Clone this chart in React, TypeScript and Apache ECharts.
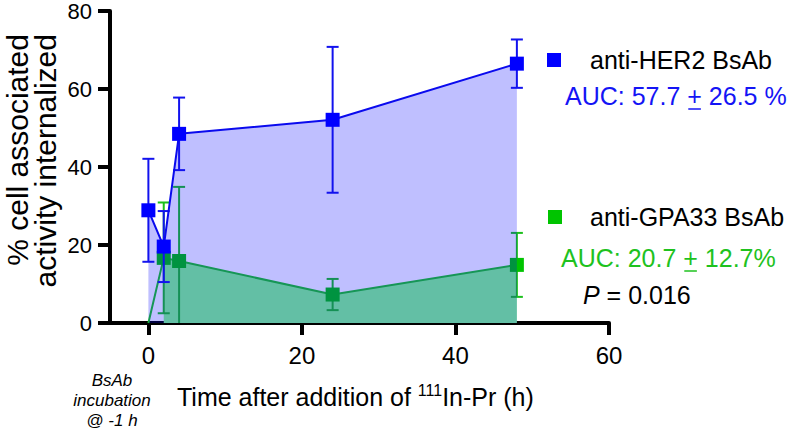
import React, { useEffect, useRef } from "react";
import * as echarts from "echarts";

// ---- data ----
const hoursHER2 = [0, 2, 4, 24, 48];
const her2Mean = [28.9, 19.6, 48.5, 52.1, 66.5];
const her2Err = [13.2, 9.1, 9.3, 18.7, 6.2];

const hoursGPA33 = [0, 2, 4, 24, 48];
const gpa33Mean = [0, 16.7, 15.9, 7.3, 14.9];
const gpa33Err = [0, 14.2, 19.0, 4.0, 8.2];

const xTickValues = [0, 20, 40, 60];

const her2Name = "anti-HER2 BsAb";
const gpa33Name = "anti-GPA33 BsAb";
const her2AucPre = "AUC: 57.7 ";
const her2AucPost = " 26.5 %";
const gpa33AucPre = "AUC: 20.7 ";
const gpa33AucPost = " 12.7%";
const pValue = "0.016";

const FONT = '"Liberation Sans", Arial, Helvetica, sans-serif';
const BLUE = "#0000ff";
const BLUE_TEXT = "#1414f5";
const GREEN = "#00c400";
const GREEN_TEXT = "#1ec21e";

function measure(text: string, size: number, style = "normal") {
  const c = document.createElement("canvas").getContext("2d");
  if (!c) return text.length * size * 0.55;
  c.font = `${style} ${size}px "Liberation Sans", Arial, sans-serif`;
  return c.measureText(text).width;
}

function errorSeries(xs: number[], ys: number[], es: number[], color: string, z: number) {
  return {
    type: "custom",
    z,
    silent: true,
    data: xs.map((x, i) => [x, ys[i], es[i]]),
    renderItem: (params: any, api: any) => {
      const x = api.value(0);
      const y = api.value(1);
      const e = api.value(2);
      if (!e) return null;
      const lowV = Math.max(0, y - e);
      const hi = api.coord([x, y + e]);
      const lo = api.coord([x, lowV]);
      const w = 6;
      const st = { stroke: color, lineWidth: 2 };
      const children: any[] = [
        { type: "line", shape: { x1: hi[0], y1: hi[1], x2: lo[0], y2: lo[1] }, style: st },
        { type: "line", shape: { x1: hi[0] - w, y1: hi[1], x2: hi[0] + w, y2: hi[1] }, style: st },
      ];
      if (y - e > 0) {
        children.push({ type: "line", shape: { x1: lo[0] - w, y1: lo[1], x2: lo[0] + w, y2: lo[1] }, style: st });
      }
      return { type: "group", children };
    },
  };
}

export default function App() {
  const ref = useRef<HTMLDivElement>(null);

  useEffect(() => {
    if (!ref.current) return;
    const chart = echarts.init(ref.current, undefined, { renderer: "svg" });

    const legFont = 25;
    const her2AucX = 565;
    const gpaAucX = 561;
    const plusW = measure("+", legFont);
    const u1 = her2AucX + measure(her2AucPre, legFont);
    const u2 = gpaAucX + measure(gpa33AucPre, legFont);

    const option: any = {
      animation: false,
      backgroundColor: "#ffffff",
      grid: { left: 110, right: 182, top: 11, bottom: 107, outerBoundsMode: "none" },
      xAxis: {
        type: "value",
        min: -5,
        max: 60,
        splitLine: { show: false },
        axisLine: { onZero: true, lineStyle: { color: "#000", width: 4 } },
        axisTick: { customValues: xTickValues, length: 12, lineStyle: { color: "#000", width: 4 } },
        axisLabel: { customValues: xTickValues, margin: 20, fontSize: 24, color: "#000", fontFamily: FONT },
      },
      yAxis: {
        type: "value",
        min: 0,
        max: 80,
        interval: 20,
        splitLine: { show: false },
        axisLine: { show: true, onZero: false, lineStyle: { color: "#000", width: 4 } },
        axisTick: { show: true, length: 12, lineStyle: { color: "#000", width: 4 } },
        axisLabel: { margin: 18, fontSize: 22, lineHeight: 20, color: "#000", fontFamily: FONT },
      },
      series: [
        {
          name: gpa33Name + " area",
          type: "line",
          z: 1,
          silent: true,
          symbol: "none",
          data: hoursGPA33.slice(1).map((x, i) => [x, gpa33Mean[i + 1]]),
          lineStyle: { width: 0 },
          areaStyle: { color: "#85ff87", opacity: 1 },
        },
        errorSeries(hoursGPA33, gpa33Mean, gpa33Err, "#1cc01c", 2),
        {
          name: gpa33Name,
          type: "line",
          z: 3,
          symbol: "rect",
          symbolSize: 14,
          data: hoursGPA33.map((x, i) =>
            gpa33Mean[i] === 0 && x === 0 ? { value: [x, gpa33Mean[i]], symbol: "none" } : [x, gpa33Mean[i]]
          ),
          lineStyle: { color: "#1ec81e", width: 2 },
          itemStyle: { color: GREEN },
        },
        {
          name: her2Name + " area",
          type: "line",
          z: 4,
          silent: true,
          symbol: "none",
          data: hoursHER2.map((x, i) => [x, her2Mean[i]]),
          lineStyle: { width: 0 },
          areaStyle: { color: "rgba(0,0,255,0.25)", opacity: 1 },
        },
        errorSeries(hoursHER2, her2Mean, her2Err, "#1212ee", 5),
        {
          name: her2Name,
          type: "line",
          z: 6,
          symbol: "rect",
          symbolSize: 14,
          data: hoursHER2.map((x, i) => [x, her2Mean[i]]),
          lineStyle: { color: "#0a0aee", width: 2 },
          itemStyle: { color: BLUE },
        },
      ],
      graphic: [
        // y axis title
        {
          type: "text",
          x: 31,
          y: 34,
          rotation: Math.PI / 2,
          style: {
            text: "% cell associated\nactivity internalized",
            fontSize: 30,
            lineHeight: 28,
            fontFamily: FONT,
            fill: "#000",
            align: "right",
            verticalAlign: "middle",
            textAlign: "right",
            textVerticalAlign: "middle",
          },
        },
        // x axis title
        {
          type: "text",
          x: 177,
          y: 397,
          style: {
            text: "{n|Time after addition of }{s|111}{n|In-Pr (h)}",
            rich: {
              n: { fontSize: 25, fontFamily: FONT, fill: "#000", lineHeight: 30 },
              s: { fontSize: 16, fontFamily: FONT, fill: "#000", verticalAlign: "top", lineHeight: 30 },
            },
            align: "left",
            verticalAlign: "middle",
            textAlign: "left",
            textVerticalAlign: "middle",
          },
        },
        // incubation note
        {
          type: "text",
          x: 112,
          y: 400,
          style: {
            text: "BsAb\nincubation\n@ -1 h",
            fontSize: 17,
            fontStyle: "italic",
            lineHeight: 20,
            fontFamily: FONT,
            fill: "#000",
            align: "center",
            verticalAlign: "middle",
            textAlign: "center",
            textVerticalAlign: "middle",
          },
        },
        // legend HER2
        { type: "rect", shape: { x: 547, y: 53, width: 14, height: 14 }, style: { fill: BLUE } },
        {
          type: "text",
          x: 590,
          y: 60,
          style: { text: her2Name, fontSize: legFont, fontFamily: FONT, fill: "#000", align: "left", verticalAlign: "middle", textAlign: "left", textVerticalAlign: "middle" },
        },
        {
          type: "text",
          x: her2AucX,
          y: 96,
          style: { text: her2AucPre + "+" + her2AucPost, fontSize: legFont, fontFamily: FONT, fill: BLUE_TEXT, align: "left", verticalAlign: "middle", textAlign: "left", textVerticalAlign: "middle" },
        },
        { type: "line", shape: { x1: u1 + 1, y1: 109, x2: u1 + plusW - 1, y2: 109 }, style: { stroke: BLUE_TEXT, lineWidth: 1.5 } },
        // legend GPA33
        { type: "rect", shape: { x: 548, y: 210, width: 14, height: 14 }, style: { fill: GREEN } },
        {
          type: "text",
          x: 590,
          y: 217,
          style: { text: gpa33Name, fontSize: legFont, fontFamily: FONT, fill: "#000", align: "left", verticalAlign: "middle", textAlign: "left", textVerticalAlign: "middle" },
        },
        {
          type: "text",
          x: gpaAucX,
          y: 258,
          style: { text: gpa33AucPre + "+" + gpa33AucPost, fontSize: legFont, fontFamily: FONT, fill: GREEN_TEXT, align: "left", verticalAlign: "middle", textAlign: "left", textVerticalAlign: "middle" },
        },
        { type: "line", shape: { x1: u2 + 1, y1: 271, x2: u2 + plusW - 1, y2: 271 }, style: { stroke: GREEN_TEXT, lineWidth: 1.5 } },
        {
          type: "text",
          x: 583,
          y: 295,
          style: {
            text: "{i|P} = " + pValue,
            fontSize: legFont,
            fontFamily: FONT,
            fill: "#000",
            rich: { i: { fontStyle: "italic", fontSize: legFont, fontFamily: FONT, fill: "#000" } },
            align: "left",
            verticalAlign: "middle",
            textAlign: "left",
            textVerticalAlign: "middle",
          },
        },
      ],
    };

    chart.setOption(option);
    return () => chart.dispose();
  }, []);

  return (
    <div
      ref={ref}
      style={{ position: "fixed", left: 0, top: 0, width: 791, height: 430, background: "#fff" }}
    />
  );
}
